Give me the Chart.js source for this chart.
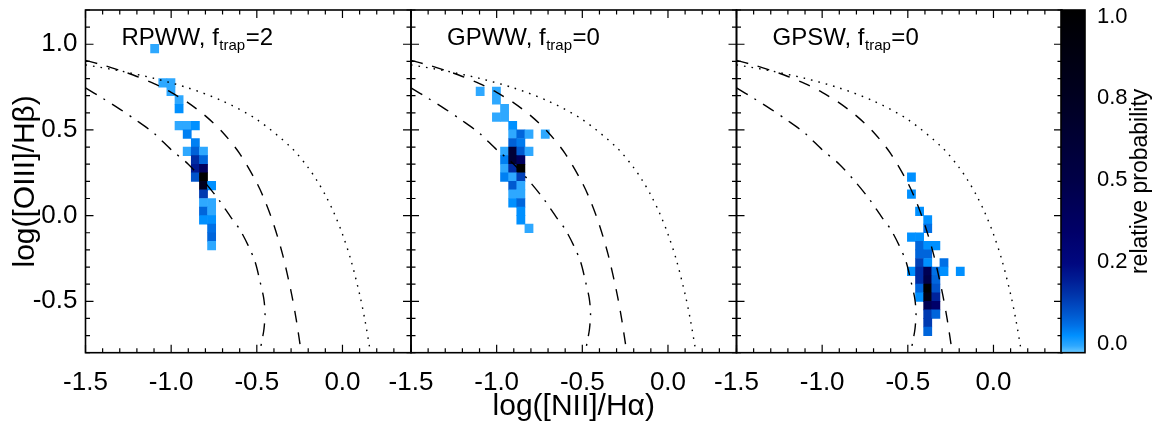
<!DOCTYPE html>
<html><head><meta charset="utf-8">
<script src="https://cdn.jsdelivr.net/npm/chart.js@4.4.1/dist/chart.umd.min.js"></script>
<style>
html,body{margin:0;padding:0;background:#fff;}
#wrap{position:relative;width:1154px;height:424px;overflow:hidden;background:#fff;}
#wrap canvas{position:absolute;left:0;top:0;}
</style></head><body>
<div id="wrap">
<canvas id="p1" width="1154" height="424"></canvas>
<canvas id="p2" width="1154" height="424"></canvas>
<canvas id="p3" width="1154" height="424"></canvas>
<canvas id="cb" width="1154" height="424"></canvas>
</div>
<script>
// ---------------- data ----------------
const xRange = [-1.5, 0.4];
const yRange = [-0.8, 1.2];
const xTickValues = [-1.5, -1.0, -0.5, 0.0];
const xTickLabels = ['-1.5', '-1.0', '-0.5', '0.0'];
const yTickValues = [-0.5, 0.0, 0.5, 1.0];
const yTickLabels = ['-0.5', '0.0', '0.5', '1.0'];
const cbRange = [0, 1];
const cbLabelRange = [-0.027, 1.02];
const cbTickValues = [0, 0.25, 0.5, 0.75, 1.0];
const cbTickLabels = ['0.0', '0.2', '0.5', '0.8', '1.0'];
const panelNames = ['RPWW', 'GPWW', 'GPSW'];
const panelFtrap = ['2', '0', '0'];
const binWidthY = 0.05;

// histogram cells: [log NII/Ha centre, log OIII/Hb centre, relative probability]
const rpwwCells = [
  [-1.0963, 0.975, 0.02],
  [-1.0488, 0.775, 0.02], [-1.0013, 0.775, 0.02],
  [-1.0013, 0.725, 0.02],
  [-0.9538, 0.675, 0.02],
  [-0.9538, 0.625, 0.05],
  [-0.9538, 0.525, 0.02], [-0.9063, 0.525, 0.02], [-0.8588, 0.525, 0.05],
  [-0.9063, 0.475, 0.065],
  [-0.8588, 0.425, 0.065],
  [-0.9063, 0.375, 0.02], [-0.8588, 0.375, 0.10], [-0.8113, 0.375, 0.02],
  [-0.8588, 0.325, 0.185], [-0.8113, 0.325, 0.095],
  [-0.8588, 0.275, 0.22], [-0.8113, 0.275, 0.40],
  [-0.8588, 0.225, 0.12], [-0.8113, 0.225, 1.00],
  [-0.8113, 0.175, 0.75], [-0.7638, 0.175, 0.05],
  [-0.8113, 0.125, 0.16],
  [-0.8113, 0.075, 0.02], [-0.7638, 0.075, 0.02],
  [-0.8113, 0.025, 0.095], [-0.7638, 0.025, 0.02],
  [-0.8113, -0.025, 0.05], [-0.7638, -0.025, 0.05],
  [-0.7638, -0.075, 0.08],
  [-0.7638, -0.125, 0.095],
  [-0.7638, -0.175, 0.02]
];
const gpwwCells = [
  [-1.0963, 0.725, 0.02], [-1.0013, 0.725, 0.02],
  [-1.0013, 0.675, 0.02],
  [-0.9538, 0.625, 0.02],
  [-1.0013, 0.575, 0.02], [-0.9538, 0.575, 0.02],
  [-0.9063, 0.525, 0.05],
  [-0.9063, 0.475, 0.02], [-0.8588, 0.475, 0.095], [-0.8113, 0.475, 0.02], [-0.7163, 0.475, 0.02],
  [-0.9063, 0.425, 0.10], [-0.8588, 0.425, 0.07],
  [-0.9538, 0.375, 0.02], [-0.9063, 0.375, 0.60], [-0.8588, 0.375, 0.11], [-0.8113, 0.375, 0.02],
  [-0.9538, 0.325, 0.065], [-0.9063, 0.325, 0.60], [-0.8588, 0.325, 0.40],
  [-0.9538, 0.275, 0.02], [-0.9063, 0.275, 0.185], [-0.8588, 0.275, 1.00],
  [-0.9538, 0.225, 0.065], [-0.9063, 0.225, 0.02], [-0.8588, 0.225, 0.15],
  [-0.9063, 0.175, 0.11], [-0.8588, 0.175, 0.02],
  [-0.9063, 0.125, 0.02], [-0.8588, 0.125, 0.02],
  [-0.9063, 0.075, 0.05], [-0.8588, 0.075, 0.095],
  [-0.8588, 0.025, 0.05],
  [-0.8588, -0.025, 0.05],
  [-0.8113, -0.075, 0.02]
];
const gpswCells = [
  [-0.4788, 0.225, 0.05],
  [-0.4788, 0.125, 0.05],
  [-0.4313, 0.025, 0.05],
  [-0.3838, -0.025, 0.05],
  [-0.3838, -0.075, 0.08],
  [-0.4788, -0.125, 0.05], [-0.4313, -0.125, 0.05],
  [-0.4313, -0.175, 0.095], [-0.3838, -0.175, 0.05], [-0.3363, -0.175, 0.05],
  [-0.4313, -0.225, 0.095], [-0.3838, -0.225, 0.095],
  [-0.4313, -0.275, 0.15], [-0.3838, -0.275, 0.05], [-0.2888, -0.275, 0.08],
  [-0.4788, -0.325, 0.05], [-0.4313, -0.325, 0.185], [-0.3838, -0.325, 0.45], [-0.3363, -0.325, 0.08], [-0.2888, -0.325, 0.05], [-0.1938, -0.325, 0.05],
  [-0.4313, -0.375, 0.185], [-0.3838, -0.375, 0.50], [-0.3363, -0.375, 0.095],
  [-0.4313, -0.425, 0.095], [-0.3838, -0.425, 1.00], [-0.3363, -0.425, 0.12],
  [-0.4313, -0.475, 0.05], [-0.3838, -0.475, 0.85], [-0.3363, -0.475, 0.20],
  [-0.3838, -0.525, 0.45], [-0.3363, -0.525, 0.35],
  [-0.3838, -0.575, 0.16], [-0.3363, -0.575, 0.095],
  [-0.3838, -0.625, 0.16],
  [-0.3838, -0.675, 0.095]
];

// demarcation curves
const dottedX = [-1.5, -1.3, -1.1, -0.9, -0.7, -0.5, -0.3, -0.2, -0.15, -0.1, -0.05, 0.0, 0.05, 0.1, 0.13, 0.16, 0.163];
const dottedY = [0.880, 0.845, 0.801, 0.745, 0.669, 0.561, 0.398, 0.280, 0.206, 0.120, 0.017, -0.108, -0.262, -0.459, -0.604, -0.778, -0.800];
const dashedX = [-1.5, -1.4, -1.3, -1.2, -1.1, -1.0, -0.9, -0.8, -0.7, -0.6, -0.5, -0.45, -0.4, -0.35, -0.3, -0.27, -0.24];
const dashedY = [0.906, 0.879, 0.848, 0.812, 0.770, 0.719, 0.658, 0.582, 0.487, 0.362, 0.191, 0.080, -0.056, -0.225, -0.443, -0.606, -0.803];
const dashDotX = [-1.5, -1.4, -1.3, -1.2, -1.1, -1.0, -0.9, -0.8, -0.72, -0.65, -0.6, -0.55, -0.51, -0.48, -0.46, -0.452, -0.458, -0.468, -0.484];
const dashDotY = [0.745, 0.685, 0.622, 0.554, 0.480, 0.385, 0.300, 0.190, 0.090, -0.012, -0.080, -0.175, -0.270, -0.390, -0.480, -0.570, -0.660, -0.720, -0.800];

// ---------------- styling ----------------
const FONT = '"Liberation Sans", Arial, Helvetica, sans-serif';
Chart.defaults.font.family = FONT;
Chart.defaults.color = '#000';
const W = 1154, H = 424;
const plotTop = 10, plotBottom = 352.7, panelW = 325.5, firstLeft = 85.5;
const cbLeft = 1061, cbRight = 1085;

const cmapStops = [
  [0.00, [105, 200, 255]],
  [0.02, [46, 168, 255]],
  [0.05, [0, 144, 255]],
  [0.08, [0, 112, 230]],
  [0.11, [0, 90, 208]],
  [0.14, [0, 70, 190]],
  [0.17, [0, 52, 170]],
  [0.21, [0, 30, 150]],
  [0.26, [0, 8, 128]],
  [0.35, [0, 0, 105]],
  [0.50, [0, 0, 72]],
  [0.75, [0, 0, 32]],
  [1.00, [0, 0, 0]]
];
function cmap(v) {
  for (let i = 1; i < cmapStops.length; i++) {
    const [v1, c1] = cmapStops[i];
    const [v0, c0] = cmapStops[i - 1];
    if (v <= v1) {
      const t = (v - v0) / (v1 - v0);
      const c = c0.map((a, k) => Math.round(a + (c1[k] - a) * t));
      return `rgb(${c[0]},${c[1]},${c[2]})`;
    }
  }
  return 'rgb(0,0,0)';
}

const cellData = cells => cells.map(c => ({x: c[0], y: [c[1] - binWidthY / 2, c[1] + binWidthY / 2], v: c[2]}));
const curveData = (xs, ys) => xs.map((x, i) => ({x, y: ys[i]}));

const panelDeco = {
  id: 'panelDeco',
  afterDatasetsDraw(chart, args, opts) {
    const {ctx, chartArea: a, scales: {x, y}} = chart;
    ctx.save();
    ctx.strokeStyle = '#000';
    ctx.lineWidth = 1.2;
    ctx.beginPath();
    for (let k = -15; k <= 4; k++) {
      const px = x.getPixelForValue(k / 10);
      const len = (k % 5 === 0) ? 8 : 4.5;
      ctx.moveTo(px, a.bottom); ctx.lineTo(px, a.bottom - len);
      ctx.moveTo(px, a.top); ctx.lineTo(px, a.top + len);
    }
    for (let k = -8; k <= 12; k++) {
      const py = y.getPixelForValue(k / 10);
      const len = (k % 5 === 0) ? 8 : 4.5;
      ctx.moveTo(a.left, py); ctx.lineTo(a.left + len, py);
      ctx.moveTo(a.right, py); ctx.lineTo(a.right - len, py);
    }
    ctx.stroke();
    ctx.lineWidth = 1.6;
    ctx.strokeRect(a.left, a.top, a.right - a.left, a.bottom - a.top);
    // panel title
    ctx.fillStyle = '#000';
    ctx.textBaseline = 'alphabetic';
    ctx.textAlign = 'left';
    let tx = a.left + 36;
    const ty = a.top + 35;
    ctx.font = '24px ' + FONT;
    const main = opts.name + ', f';
    ctx.fillText(main, tx, ty);
    tx += ctx.measureText(main).width + 0.5;
    ctx.font = '15px ' + FONT;
    ctx.fillText('trap', tx, ty + 5);
    tx += ctx.measureText('trap').width + 0.5;
    ctx.font = '24px ' + FONT;
    ctx.fillText('=' + opts.ftrap, tx, ty);
    ctx.restore();
  }
};

function lineSet(xs, ys, dash) {
  return {type: 'scatter', data: curveData(xs, ys), showLine: true, pointRadius: 0,
    borderColor: '#000', borderWidth: 1.4, borderDash: dash, borderCapStyle: 'butt',
    tension: 0.3, order: 0};
}

function makePanel(id, k, cells) {
  const left = firstLeft + k * panelW;
  const right = left + panelW;
  return new Chart(document.getElementById(id), {
    type: 'scatter',
    data: {datasets: [
      lineSet(dottedX, dottedY, [1.6, 6]),
      lineSet(dashedX, dashedY, [12, 10]),
      lineSet(dashDotX, dashDotY, [13, 8, 2, 8]),
      {type: 'bar', data: cellData(cells), backgroundColor: c => cmap(c.raw.v),
        borderWidth: 0, grouped: false, categoryPercentage: 1, barPercentage: 1, order: 1}
    ]},
    options: {
      responsive: false, animation: false, events: [],
      layout: {padding: {left: k === 0 ? 0 : left, right: W - right, top: plotTop, bottom: 0}},
      plugins: {legend: {display: false}, tooltip: {enabled: false},
        panelDeco: {name: panelNames[k], ftrap: panelFtrap[k]}},
      scales: {
        x: {type: 'linear', min: xRange[0], max: xRange[1], offset: false,
          grid: {display: false, drawTicks: false}, border: {display: false},
          afterBuildTicks: s => { s.ticks = xTickValues.map(v => ({value: v})); },
          afterFit: s => { s.height = H - plotBottom; s.paddingLeft = 0; s.paddingRight = 0; },
          ticks: {font: {size: 26}, padding: 15, maxRotation: 0, autoSkip: false,
            callback: v => xTickLabels[xTickValues.indexOf(v)]},
          title: {display: k === 1, text: 'log([NII]/H\u03b1)', font: {size: 30, lineHeight: 1}, padding: {top: 0, bottom: 2}}
        },
        y: {type: 'linear', min: yRange[0], max: yRange[1], display: k === 0,
          grid: {display: false, drawTicks: false}, border: {display: false},
          afterBuildTicks: s => { s.ticks = yTickValues.map(v => ({value: v})); },
          afterFit: s => { s.width = k === 0 ? firstLeft : 0; s.paddingTop = 0; s.paddingBottom = 0; },
          ticks: {font: {size: 26}, padding: 8, autoSkip: false,
            callback: v => yTickLabels[yTickValues.indexOf(v)]},
          title: {display: true, text: 'log([OIII]/H\u03b2)', font: {size: 30, lineHeight: 1}, padding: {top: 11, bottom: 0}}
        }
      }
    },
    plugins: [panelDeco]
  });
}

makePanel('p1', 0, rpwwCells);
makePanel('p2', 1, gpwwCells);
makePanel('p3', 2, gpswCells);

const cbDeco = {
  id: 'cbDeco',
  afterDatasetsDraw(chart) {
    const {ctx, chartArea: a} = chart;
    ctx.save();
    ctx.strokeStyle = '#000';
    ctx.lineWidth = 1.6;
    ctx.strokeRect(a.left, a.top, a.right - a.left, a.bottom - a.top);
    ctx.translate(1147, (a.top + a.bottom) / 2);
    ctx.rotate(-Math.PI / 2);
    ctx.font = '23px ' + FONT;
    ctx.fillStyle = '#000';
    ctx.textAlign = 'center';
    ctx.textBaseline = 'alphabetic';
    ctx.fillText('relative probability', 0, 0);
    ctx.restore();
  }
};

new Chart(document.getElementById('cb'), {
  type: 'bar',
  data: {labels: ['p'], datasets: [{
    data: [cbRange], borderWidth: 0, categoryPercentage: 1, barPercentage: 1, yAxisID: 'y',
    backgroundColor: c => {
      const ch = c.chart, a = ch.chartArea;
      if (!a) return '#000';
      const y0 = ch.scales.y.getPixelForValue(cbRange[0]), y1 = ch.scales.y.getPixelForValue(cbRange[1]);
      const g = ch.ctx.createLinearGradient(0, y0, 0, y1);
      cmapStops.forEach(s => g.addColorStop(s[0], cmap(s[0])));
      return g;
    }
  }]},
  options: {
    responsive: false, animation: false, events: [],
    layout: {padding: {left: cbLeft, right: 0, top: plotTop, bottom: H - plotBottom}},
    plugins: {legend: {display: false}, tooltip: {enabled: false}},
    scales: {
      x: {display: false},
      y: {display: false, min: cbRange[0], max: cbRange[1],
        afterFit: s => { s.width = 0; s.paddingTop = 0; s.paddingBottom = 0; }},
      yl: {position: 'right', min: cbLabelRange[0], max: cbLabelRange[1],
        grid: {display: false, drawTicks: false}, border: {display: false},
        afterBuildTicks: s => { s.ticks = cbTickValues.map(v => ({value: v})); },
        afterFit: s => { s.width = W - cbRight; s.paddingTop = 0; s.paddingBottom = 0; },
        ticks: {font: {size: 22}, padding: 12, autoSkip: false,
          callback: v => cbTickLabels[cbTickValues.indexOf(v)]}
      }
    }
  },
  plugins: [cbDeco]
});
</script>
</body></html>
